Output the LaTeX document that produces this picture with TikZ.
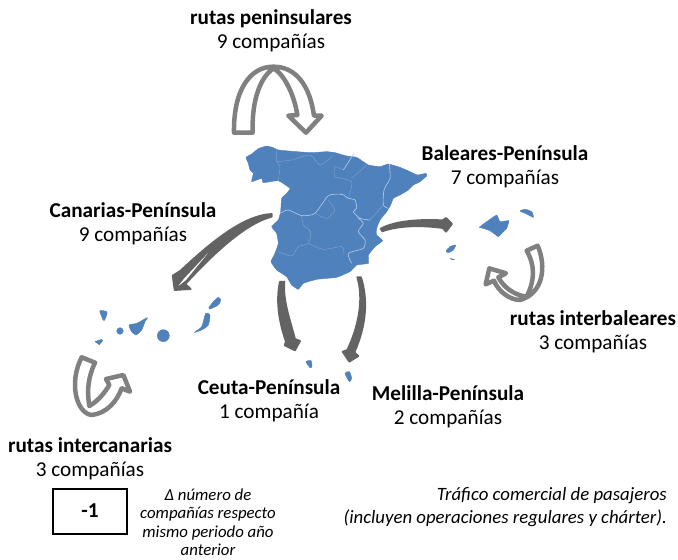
\documentclass[tikz,border=0pt]{standalone}
\usepackage{fontspec}
\setmainfont{Carlito}
\definecolor{mapblue}{HTML}{4F81BD}
\definecolor{loopgray}{HTML}{808080}
\definecolor{dark}{HTML}{636363}
\tikzset{
 lbl/.style={align=center,font=\fontsize{21.2}{24.5}\selectfont,inner sep=0pt},
 land/.style={fill=mapblue,draw=mapblue,line width=0.4pt,line join=round},
 border/.style={draw=white!60!mapblue,line width=0.6pt,line join=round},
 faint/.style={draw=white!25!mapblue,line width=0.5pt,line join=round},
 looparrow/.style={draw=loopgray,fill=white,line width=4.5pt,line join=round},
 solidarrow/.style={draw=dark,fill=dark,line width=1.8pt,line join=round},
 zone/.style={x=0.33333pt,y=-0.33333pt}
}
\begin{document}
\begin{tikzpicture}[x=1pt,y=-1pt]
\useasboundingbox (0,0) rectangle (678,560);
\fill[white] (0,0) rectangle (678,560);
% Peninsula
\begin{scope}[shift={(220,50)},zone]
\path[land] plot[smooth cycle,tension=0.2] coordinates {(78,322)(95,312)(115,296)(140,288)(160,293)(175,300)(230,305)(275,308)(320,305)(345,308)(380,318)(410,322)(445,345)(480,350)(505,342)(540,352)(570,365)(592,375)(618,370)(620,378)(600,395)(580,405)(565,420)(540,435)(520,445)(512,465)(500,485)(480,510)(470,535)(470,555)(488,572)(465,590)(445,615)(445,640)(410,645)(390,665)(350,682)(290,688)(250,700)(235,718)(215,705)(200,680)(170,660)(153,635)(165,610)(175,580)(170,550)(155,530)(175,510)(182,485)(185,445)(200,430)(210,415)(175,392)(130,398)(125,385)(95,395)(100,370)(90,360)(85,340)};
\draw[border] plot[smooth,tension=0.4] coordinates {(508,342)(510,385)(492,420)(490,465)(505,475)};
\draw[border] plot[smooth,tension=0.4] coordinates {(180,490)(205,480)(245,497)(285,490)(325,437)(365,433)(385,445)(405,450)(410,475)(400,485)(420,505)(450,510)};
\draw[border] plot[smooth,tension=0.4] coordinates {(415,505)(430,520)(415,545)(435,570)(430,595)(385,610)(395,640)};
\draw[faint] plot[smooth,tension=0.4] coordinates {(245,497)(250,525)(272,545)(265,580)(235,590)(215,618)(175,605)};
\draw[faint] plot[smooth,tension=0.4] coordinates {(265,580)(310,598)(365,590)(372,612)};
\draw[faint] plot[smooth,tension=0.4] coordinates {(325,450)(345,480)(320,505)(285,490)};
\draw[faint] plot[smooth,tension=0.4] coordinates {(170,300)(170,335)(180,350)(175,390)};
\draw[faint] plot[smooth,tension=0.4] coordinates {(170,335)(215,330)(270,315)(300,345)(335,320)};
\draw[border] (402,310)--(370,360);
\draw[faint] plot[smooth,tension=0.4] coordinates {(370,360)(345,350)(345,380)(395,395)(385,445)};
\draw[faint] (395,385)--(440,345);
\draw[faint] (490,465)--(450,510);
\end{scope}
% Canarias
\begin{scope}[shift={(60,270)},zone]
\path[land] plot[smooth cycle,tension=0.5] coordinates {(120,122)(140,125)(140,135)(132,152)(125,140)};
\path[land] (105,215)--(125,208)--(128,212)--(118,224)--cycle;
\path[land] (180,183) circle[radius=10];
\path[land] plot[smooth cycle,tension=0.4] coordinates {(207,165)(230,160)(262,143)(255,155)(245,180)(228,195)(215,185)};
\path[land] (310,197) circle[radius=18];
\path[land] plot[smooth cycle,tension=0.4] coordinates {(403,187)(425,170)(437,130)(450,135)(445,165)(425,180)};
\path[land] plot[smooth cycle,tension=0.4] coordinates {(447,112)(460,95)(475,82)(482,90)(475,105)(450,117)};
\draw[looparrow] (65,262)--(105,278) .. controls (85,320) and (80,360) .. (88,408) .. controls (110,395) and (130,375) .. (148,345)--(138,327)--(190,315)--(210,365)--(185,355) .. controls (170,395) and (140,430) .. (95,435) .. controls (50,430) and (25,340) .. (65,262)--cycle;
\end{scope}
% Baleares
\begin{scope}[shift={(370,190)},zone]
\path[land] plot[smooth cycle,tension=0.2] coordinates {(328,112)(350,95)(380,75)(390,95)(417,92)(410,115)(395,130)(385,140)(360,122)(340,115)};
\path[land] plot[smooth cycle,tension=0.4] coordinates {(450,63)(465,58)(485,65)(490,82)(470,72)};
\path[land] plot[smooth cycle,tension=0.4] coordinates {(228,183)(240,170)(257,165)(250,180)(235,188)};
\path[land] (240,205)--(254,209)--(246,209)--cycle;
\draw[looparrow] (470,182)--(503,167) .. controls (530,230) and (520,310) .. (450,330) .. controls (420,330) and (385,305) .. (372,272)--(347,283)--(358,235)--(408,250)--(385,262) .. controls (400,290) and (430,315) .. (470,320) .. controls (495,270) and (495,225) .. (470,182)--cycle;
\draw[solidarrow] (32,116) .. controls (80,90) and (160,88) .. (218,91)--(228,84)--(246,102)--(228,125)--(218,114) .. controls (160,106) and (90,105) .. (37,124)--cycle;
\end{scope}
% Ceuta, Melilla
\begin{scope}[shift={(260,270)},zone]
\path[land] plot[smooth cycle,tension=0.4] coordinates {(138,275)(153,272)(156,290)(150,293)};
\path[land] plot[smooth cycle,tension=0.4] coordinates {(255,310)(268,305)(275,325)(268,335)};
\draw[solidarrow] (60,35) .. controls (45,100) and (62,170) .. (78,215)--(74,226)--(105,241)--(120,213)--(105,207) .. controls (90,150) and (68,90) .. (73,35)--cycle;
\draw[solidarrow] (292,22) .. controls (312,90) and (295,170) .. (262,240)--(248,245)--(268,275)--(295,258)--(283,247) .. controls (318,170) and (325,90) .. (303,22)--cycle;
\end{scope}
% Canarias arrow
\begin{scope}[shift={(160,200)},zone]
\draw[solidarrow] (335,42) .. controls (260,45) and (170,110) .. (62,212)--(38,227)--(44,270)--(92,267)--(76,252) .. controls (170,150) and (260,70) .. (335,50)--cycle;
\fill[white] (145,158)--(72,236)--(55,258)--(78,240)--cycle;
\end{scope}
% Peninsular loop
\begin{scope}[shift={(220,50)},zone]
\draw[looparrow] (42,248) .. controls (40,120) and (90,50) .. (160,50) .. controls (230,50) and (270,110) .. (282,197)--(305,197)--(258,248)--(205,197)--(232,195) .. controls (222,130) and (190,70) .. (160,55) .. controls (125,80) and (95,140) .. (98,248)--cycle;
\end{scope}
% Labels
\node[lbl] (pen) at (271,31) {\textbf{rutas peninsulares}\\9 compañías};
\node[lbl] (bal) at (505,167) {\textbf{Baleares-Península}\\7 compañías};
\node[lbl] (can) at (133,224) {\textbf{Canarias-Península}\\9 compañías};
\node[lbl] (ibal) at (593,332) {\textbf{rutas interbaleares}\\3 compañías};
\node[lbl] (ceu) at (269,401) {\textbf{Ceuta-Península}\\1 compañía};
\node[lbl] (mel) at (448,407) {\textbf{Melilla-Península}\\2 compañías};
\node[lbl] (ican) at (90,459) {\textbf{rutas intercanarias}\\3 compañías};
\node[draw=black,line width=2pt,minimum width=74pt,minimum height=45pt,inner sep=0pt,font=\fontsize{21.2}{24}\selectfont\bfseries] (box) at (90,511) {-1};
\node[align=center,inner sep=0pt,font=\fontsize{16.8}{18.5}\selectfont\itshape] (leg) at (208,522) {Δ número de\\compañías respecto\\mismo periodo año\\anterior};
\node[align=right,anchor=east,inner sep=0pt,font=\fontsize{18.8}{23}\selectfont\itshape] (traf) at (667,507) {Tráfico comercial de pasajeros\\(incluyen operaciones regulares y chárter).};
\end{tikzpicture}
\end{document}
